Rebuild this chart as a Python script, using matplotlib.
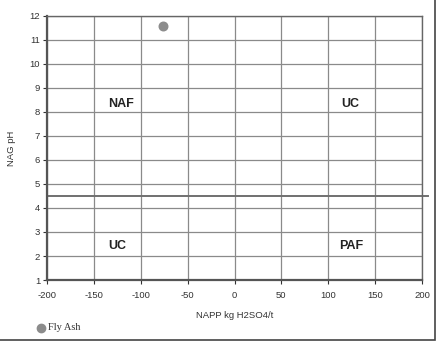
import matplotlib.pyplot as plt
from matplotlib.patches import Rectangle

# data
napp = [-76]
nag_ph = [11.6]
sample = 'Fly Ash'
zones = ['NAF', 'UC', 'UC', 'PAF']
zone_x = [-121, 124, -125, 124]
zone_y = [8.35, 8.35, 2.4, 2.4]
xticks = [-200, -150, -100, -50, 0, 50, 100, 150, 200]
yticks = list(range(1, 13))

plt.rcParams['font.family'] = ['Liberation Sans', 'DejaVu Sans']
plt.rcParams['axes.unicode_minus'] = False

fig = plt.figure(figsize=(4.37, 3.49), dpi=100)
ax = fig.add_axes([47/437, 1-280/349, 375/437, 264/349])

ax.set_xlim(-200, 200)
ax.set_ylim(1, 12)
ax.set_xticks(xticks)
ax.set_yticks(yticks)
ax.grid(True, color='#8a8a8a', lw=0.9)
ax.set_axisbelow(True)

for s in ['left', 'bottom']:
    ax.spines[s].set_color('#555555')
    ax.spines[s].set_linewidth(1.6)
for s in ['top', 'right']:
    ax.spines[s].set_color('#666666')
    ax.spines[s].set_linewidth(1.0)

ax.tick_params(labelsize=6.8, colors='#333333', length=3, width=0.8)
ax.tick_params(axis='x', pad=5)
ax.tick_params(axis='y', pad=2)

ax.axhline(4.5, xmin=0, xmax=1.016, color='#707070', lw=1.4, clip_on=False)

ax.scatter(napp, nag_ph, s=38, color='#8c8c8c', zorder=3, label=sample)

for t, x, y in zip(zones, zone_x, zone_y):
    ax.text(x, y, t, ha='center', va='center', fontsize=9, fontweight='bold', color='#222222')

ax.set_xlabel('NAPP kg H2SO4/t', fontsize=6.8, color='#333333', labelpad=8)
ax.set_ylabel('NAG pH', fontsize=6.8, color='#333333', labelpad=10)

# legend below the axes
leg = fig.add_axes([0, 0, 1, 1], facecolor='none')
leg.set_xlim(0, 437)
leg.set_ylim(349, 0)
leg.axis('off')
leg.scatter([41], [328], s=36, color='#8c8c8c')
leg.text(48, 328, sample, fontsize=7.5, family='Liberation Serif', color='#333333', va='center')

# frame around the figure (right and bottom visible)
fig.add_artist(Rectangle((-0.01, 1-340/349), 435/437 + 0.01, 1.1, transform=fig.transFigure,
                         fill=False, ec='#444444', lw=1.2))

fig.savefig('out.png', dpi=100)
